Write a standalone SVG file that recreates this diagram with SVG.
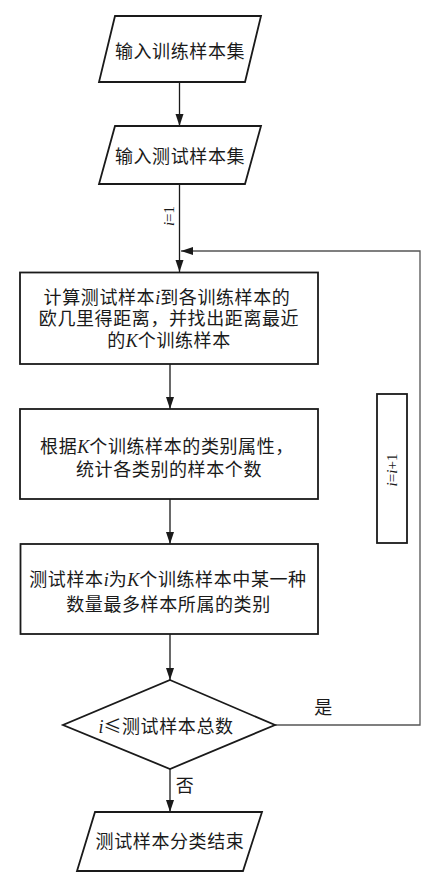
<svg xmlns="http://www.w3.org/2000/svg" width="433" height="880" viewBox="0 0 433 880">
<style>
.shape{fill:#fff;stroke:#1a1a1a;stroke-width:1.8}
.conn{fill:none;stroke:#1a1a1a;stroke-width:1.3}
.fb{fill:none;stroke:#555;stroke-width:1.3}
.t{font-family:"Noto Sans CJK SC","Noto Sans CJK JP",sans-serif;font-size:18px;fill:#1a1a1a;text-anchor:middle;letter-spacing:0.6px}
.it{font-family:"Liberation Serif",serif;font-style:italic;letter-spacing:0}
.s{font-family:"Liberation Serif",serif;font-size:15px;fill:#1a1a1a;text-anchor:middle}
</style>
<defs>
<marker id="ah" markerUnits="userSpaceOnUse" markerWidth="14" markerHeight="10" refX="12" refY="4" orient="auto">
<path d="M0,0 L12,4 L0,8 Z" fill="#1a1a1a"/>
</marker>
</defs>
<g id="connectors">
<line class="conn" x1="179.5" y1="82" x2="179.5" y2="126" marker-end="url(#ah)"/>
<line class="conn" x1="179.5" y1="184" x2="179.5" y2="272" marker-end="url(#ah)"/>
<polyline class="fb" points="275,725 420,725 420,251 181,251" marker-end="url(#ah)"/>
<line class="conn" x1="170" y1="364" x2="170" y2="409" marker-end="url(#ah)"/>
<line class="conn" x1="170" y1="499" x2="170" y2="544" marker-end="url(#ah)"/>
<line class="conn" x1="170" y1="634" x2="170" y2="680" marker-end="url(#ah)"/>
<line class="conn" x1="170" y1="769" x2="170" y2="812" marker-end="url(#ah)"/>
<text class="s" transform="translate(173.5,216) rotate(-90)"><tspan font-style="italic">i</tspan>=1</text>
<text class="t" x="323.5" y="713.5">是</text>
<text class="t" x="185" y="791.5">否</text>
</g>
<g id="n1">
<polygon class="shape" points="115,16 261,16 245,82 99,82"/>
<text class="t" x="180" y="57.5">输入训练样本集</text>
</g>
<g id="n2">
<polygon class="shape" points="115,126 261,126 245,184 99,184"/>
<text class="t" x="180" y="162.5">输入测试样本集</text>
</g>
<g id="n3">
<rect class="shape" x="20" y="272.5" width="298" height="91.5"/>
<text class="t" x="167" y="303.5">计算测试样本<tspan class="it">i</tspan>到各训练样本的</text>
<text class="t" x="169" y="324.5">欧几里得距离，并找出距离最近</text>
<text class="t" x="169" y="346.5">的<tspan class="it">K</tspan>个训练样本</text>
</g>
<g id="n4">
<rect class="shape" x="20" y="409" width="298" height="90"/>
<text class="t" x="167" y="452.5">根据<tspan class="it">K</tspan>个训练样本的类别属性，</text>
<text class="t" x="169" y="475.5">统计各类别的样本个数</text>
</g>
<g id="n5">
<rect class="shape" x="20.5" y="544" width="297.5" height="90"/>
<text class="t" x="168" y="586">测试样本<tspan class="it">i</tspan>为<tspan class="it">K</tspan>个训练样本中某一种</text>
<text class="t" x="168.5" y="611">数量最多样本所属的类别</text>
</g>
<g id="n6">
<polygon class="shape" points="170,680 275,725 170,769 63,725"/>
<text class="t" x="166" y="732.5"><tspan class="it">i</tspan>≤测试样本总数</text>
</g>
<g id="n7">
<polygon class="shape" points="95,812 262,812 243,871 77,871"/>
<text class="t" x="170" y="848">测试样本分类结束</text>
</g>
<g id="n8">
<rect class="shape" x="377" y="394" width="30" height="149"/>
<text class="s" transform="translate(397,470) rotate(-90)"><tspan font-style="italic">i</tspan>=<tspan font-style="italic">i</tspan>+1</text>
</g>
</svg>
